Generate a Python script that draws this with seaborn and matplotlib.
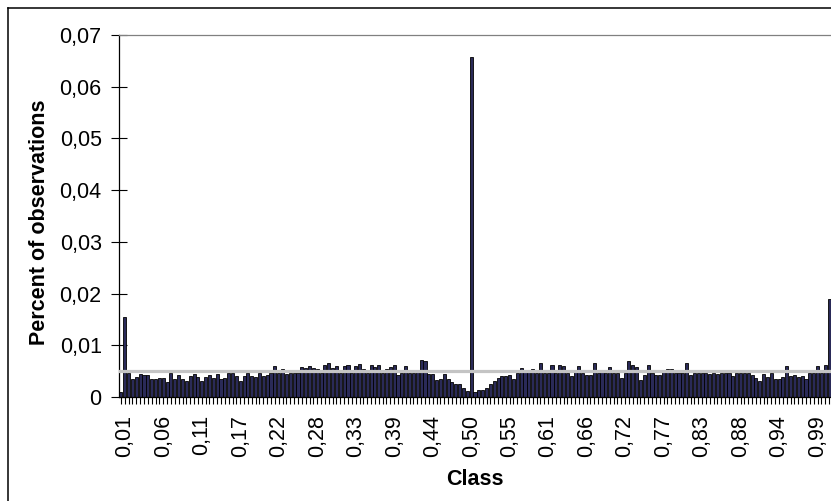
import numpy as np
import matplotlib
matplotlib.use("Agg")
import matplotlib.pyplot as plt
from matplotlib.lines import Line2D
import seaborn as sns
import pandas as pd

# ---- data -------------------------------------------------------------
percent = [
    # 0,01 .. 0,22 region
    0.0010, 0.0155, 0.0047, 0.0034, 0.0039, 0.0045, 0.0043, 0.0042, 0.0035, 0.0034,
    0.0037, 0.0037, 0.0029, 0.0047, 0.0034, 0.0042, 0.0035, 0.0031, 0.0040, 0.0045,
    0.0039, 0.0030, 0.0039, 0.0042, 0.0037, 0.0044, 0.0035, 0.0036, 0.0047, 0.0047,
    0.0040, 0.0031, 0.0040, 0.0047, 0.0040, 0.0039, 0.0047, 0.0041, 0.0043, 0.0047,
    0.0059, 0.0047, 0.0054, 0.0045, 0.0047,
    # 0,22 .. 0,49 region
    0.0047, 0.0047, 0.0058, 0.0056, 0.0059, 0.0056, 0.0055, 0.0047, 0.0061, 0.0066,
    0.0056, 0.0060, 0.0047, 0.0060, 0.0061, 0.0047, 0.0060, 0.0063, 0.0055, 0.0047,
    0.0061, 0.0058, 0.0061, 0.0047, 0.0055, 0.0058, 0.0061, 0.0042, 0.0047, 0.0059,
    0.0047, 0.0047, 0.0053, 0.0071, 0.0070, 0.0045, 0.0045, 0.0032, 0.0034, 0.0045,
    0.0035, 0.0029, 0.0026,
    # around 0,50
    0.0025, 0.0017, 0.0012, 0.0658, 0.0010, 0.0014, 0.0014, 0.0017, 0.0025, 0.0030,
    0.0036, 0.0041, 0.0040,
    # 0,55 .. 0,72
    0.0043, 0.0035, 0.0046, 0.0057, 0.0053, 0.0053, 0.0055, 0.0047, 0.0065, 0.0047,
    0.0047, 0.0061, 0.0047, 0.0061, 0.0059, 0.0047, 0.0040, 0.0053, 0.0059, 0.0047,
    0.0043, 0.0042, 0.0065, 0.0047, 0.0053, 0.0047, 0.0058, 0.0047, 0.0047, 0.0037,
    0.0047, 0.0070,
    # 0,72 .. 1,00
    0.0061, 0.0058, 0.0032, 0.0042, 0.0061, 0.0047, 0.0042, 0.0043, 0.0052, 0.0055,
    0.0055, 0.0047, 0.0047, 0.0047, 0.0065, 0.0042, 0.0047, 0.0047, 0.0047, 0.0047,
    0.0045, 0.0047, 0.0045, 0.0047, 0.0047, 0.0047, 0.0040, 0.0047, 0.0047, 0.0047,
    0.0047, 0.0042, 0.0037, 0.0031, 0.0045, 0.0039, 0.0047, 0.0034, 0.0035, 0.0039,
    0.0059, 0.0041, 0.0042, 0.0039, 0.0040, 0.0035, 0.0047, 0.0047, 0.0059, 0.0047,
    0.0062, 0.0190,
]
class_labels = ["0,01", "0,06", "0,11", "0,17", "0,22", "0,28", "0,33", "0,39",
                "0,44", "0,50", "0,55", "0,61", "0,66", "0,72", "0,77", "0,83",
                "0,88", "0,94", "0,99"]
expected = 0.005
y_ticks = [0, 0.01, 0.02, 0.03, 0.04, 0.05, 0.06, 0.07]
y_tick_labels = ["0", "0,01", "0,02", "0,03", "0,04", "0,05", "0,06", "0,07"]

n = len(percent)
classes = np.arange(n)
df = pd.DataFrame({"cls": classes, "pct": percent})

# ---- figure -----------------------------------------------------------
plt.rcParams["font.family"] = ["Liberation Sans", "DejaVu Sans"]
W, H = 831, 501
fig = plt.figure(figsize=(W / 100, H / 100), dpi=100)
ax = fig.add_axes([119 / W, 1 - 397 / H, (W - 119) / W, (397 - 35) / H])

sns.barplot(data=df, x="cls", y="pct", color="#2a2a58", saturation=1,
            width=0.8, edgecolor="black", linewidth=0.6, ax=ax, zorder=2)
ax.axhline(expected, color="#c4c4c4", linewidth=2.3, zorder=3)

ax.set_xlim(-0.5, n - 0.5)
ax.set_ylim(0, 0.07)

ax.set_yticks(y_ticks)
ax.set_yticklabels(y_tick_labels, fontsize=15.5)
ax.tick_params(axis="y", direction="inout", length=11, width=0.8, pad=7,
               color="black")

xt_labels = [""] * n
for k, lab in enumerate(class_labels):
    pos = 1 + 10 * k
    if pos < n:
        xt_labels[pos] = lab
ax.set_xticks(classes)
ax.set_xticklabels(xt_labels, rotation=90, fontsize=15.5, va="top", ha="center")
ax.tick_params(axis="x", direction="out", length=5, width=0.8, pad=8,
               color="black")

ax.set_xlabel("")
ax.set_ylabel("")
for s in ["left", "bottom"]:
    ax.spines[s].set_color("black")
    ax.spines[s].set_linewidth(0.9)
ax.spines["top"].set_color("#808080")
ax.spines["top"].set_linewidth(0.9)
ax.spines["right"].set_visible(False)
ax.set_facecolor("white")

fig.text(40 / W, 1 - 222 / H, "Percent of observations", rotation=90,
         ha="center", va="center", fontsize=15.5, fontweight="bold")
fig.text(475 / W, 1 - 485 / H, "Class", ha="center", va="baseline",
         fontsize=15.5, fontweight="bold")

# outer chart border (partly cropped)
fig.add_artist(Line2D([7.5 / W, 7.5 / W], [0, 1 - 8 / H], transform=fig.transFigure,
                      color="black", linewidth=1.1))
fig.add_artist(Line2D([7.5 / W, 1], [1 - 8 / H, 1 - 8 / H], transform=fig.transFigure,
                      color="black", linewidth=1.1))

fig.savefig("out.png", dpi=100)
